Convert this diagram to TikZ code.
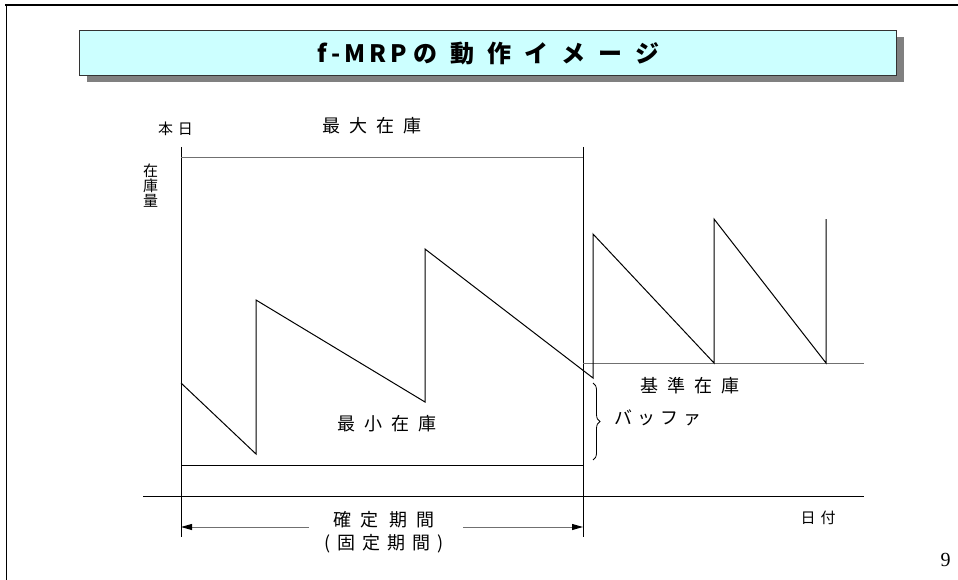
\documentclass[tikz,border=0pt]{standalone}
\usepackage{fontspec}
\setmainfont{Liberation Serif}
\newfontfamily\jp{Noto Sans CJK JP}
\usetikzlibrary{arrows.meta,decorations.pathreplacing}
\definecolor{titlecyan}{HTML}{CCFFFF}
\definecolor{shadowgray}{HTML}{808080}
\definecolor{linegray}{HTML}{707070}
\newdimen\lsgap
\def\ls#1#2{\lsgap=#1\relax\lsfirst#2\relax}
\def\lsfirst#1{#1\lsrest}
\def\lsrest#1{\ifx#1\relax\else\kern\lsgap#1\expandafter\lsrest\fi}
\begin{document}
\begin{tikzpicture}[x=1pt,y=-1pt,line width=1pt,
  lbl/.style={inner sep=0pt,font=\jp\fontsize{18}{20}\selectfont},
  small/.style={inner sep=0pt,font=\jp\fontsize{15}{15}\selectfont},
  frameline/.style={line width=1.7pt},
  grayline/.style={draw=linegray},
  dimarrow/.style={draw=linegray,-{Triangle[length=11pt,width=6pt,color=black]}}]
\useasboundingbox (0,0) rectangle (958,580);
% page frame
\draw[frameline] (5,5) -- (958,5);
\draw[frameline] (6.5,5) -- (6.5,580);
% title
\fill[shadowgray] (87,37) rectangle (904,82);
\draw[fill=titlecyan,draw=black!80] (79,31) rectangle (896,76);
\node[inner sep=0pt,font=\jp\bfseries\fontsize{24}{26}\selectfont] (title) at (488.5,53.5) {\ls{4pt}{f-MRP}\kern6pt\ls{13pt}{の動作イメージ}};
% coordinates
\coordinate (todayTop) at (181,147);
\coordinate (todayBot) at (181,537);
\coordinate (endTop) at (583,147);
\coordinate (endBot) at (583,537);
\coordinate (maxL) at (181,158);
\coordinate (maxR) at (583,158);
\coordinate (minL) at (181,465);
\coordinate (minR) at (583,465);
\coordinate (axL) at (143,496);
\coordinate (axR) at (864,496);
\coordinate (baseL) at (583,363);
\coordinate (baseR) at (864,363);
% frame lines
\draw (todayTop) -- (todayBot);
\draw (endTop) -- (endBot);
\draw[grayline] (maxL) -- (maxR);
\draw (minL) -- (minR);
\draw (axL) -- (axR);
\draw[grayline] (baseL) -- (baseR);
% sawtooth
\draw[line join=miter] (181,383) -- (256,454) -- (256,300) -- (425,402) -- (425,249)
  -- (593,378) -- (593,234) -- (714,363) -- (714,219) -- (826,363) -- (826,219);
% brace
\coordinate (brT) at (593,383);
\coordinate (brB) at (593,460);
\draw[line width=0.8pt,decorate,decoration={brace,amplitude=7pt}] (brT) -- (brB);
% dimension arrows
\coordinate (arL) at (181,527);
\coordinate (arR) at (583,527);
\coordinate (arLs) at (309,527);
\coordinate (arRs) at (463,527);
\draw[dimarrow] (arLs) -- (arL);
\draw[dimarrow] (arRs) -- (arR);
% labels
\node[small] (honjitsu) at (175.5,129) {\ls{5pt}{本日}};
\node[lbl] (maxinv) at (372,126) {\ls{9pt}{最大在庫}};
\node[small,align=center] (zaikoryo) at (150.5,186) {在\\庫\\量};
\node[lbl] (mininv) at (387,424) {\ls{9pt}{最小在庫}};
\node[lbl] (baseinv) at (690,386) {\ls{9pt}{基準在庫}};
\node[lbl] (buffer) at (658,418) {\ls{5pt}{バッファ}};
\node[lbl] (kakutei) at (384,520) {\ls{10pt}{確定期間}};
\node[lbl] (kotei) at (384,544) {\ls{7pt}{(固定期間)}};
\node[small] (hizuke) at (818,518) {\ls{5pt}{日付}};
\node[inner sep=0pt,font=\fontsize{20}{22}\selectfont] (page) at (945.5,560) {9};
\end{tikzpicture}
\end{document}
